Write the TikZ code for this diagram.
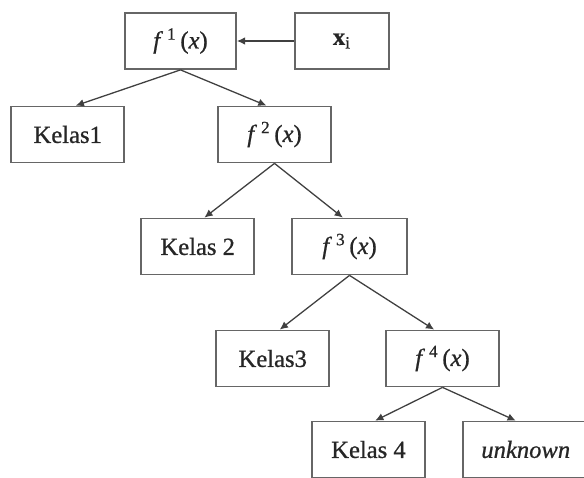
\documentclass[tikz,border=0pt]{standalone}
\usepackage{fontspec}
\setmainfont{Liberation Serif}[FakeBold=0.8]
\usepackage{tikz}
\usetikzlibrary{positioning,arrows.meta}
\definecolor{boxgray}{rgb}{0.40,0.40,0.40}
\definecolor{linegray}{rgb}{0.25,0.25,0.25}
\tikzset{
  box/.style={draw=boxgray, line width=1.5pt, minimum width=3.39cm, minimum height=1.68cm,
    inner sep=0pt, font=\fontsize{21}{25}\selectfont, text=black!85},
  link/.style={-{Latex[length=7pt,width=6.5pt]}, draw=linegray, line width=1.1pt}
}

\begin{document}
\begin{tikzpicture}[x=0.03cm,y=-0.03cm]
    \useasboundingbox (0,0) rectangle (584,478);

    \node(f1) [box, minimum width=3.33cm] at (180.5,41) {\textit{f}\,\textsuperscript{1}\,(\textit{x})};
    \node(xi) [box, minimum width=2.82cm, right=1.71cm of f1] {\textbf{x}\textsubscript{i}};

    \node(f2) [box] at (274.5,134.5) {\textit{f}\,\textsuperscript{2}\,(\textit{x})};
    \node(k1) [box, left=2.76cm of f2] {Kelas1};

    \node(f3) [box, minimum width=3.45cm] at (349.5,246.5) {\textit{f}\,\textsuperscript{3}\,(\textit{x})};
    \node(k2) [box, left=1.08cm of f3] {Kelas 2};

    \node(f4) [box] at (442.5,358.5) {\textit{f}\,\textsuperscript{4}\,(\textit{x})};
    \node(k3) [box, left=1.65cm of f4] {Kelas3};

    \node(k4) [box] at (368.5,449.5) {Kelas 4};
    \node(unk) [box, minimum width=3.78cm, right=1.08cm of k4] {\textit{unknown}};

    % input
    \draw[link] (xi) -- (f1);

    \draw[link] (f1.south) -- ([xshift=0.24cm]k1.north);
    \draw[link] (f1.south) -- ([xshift=-0.24cm]f2.north);

    \draw[link] (f2.south) -- ([xshift=0.2cm]k2.north);
    \draw[link] (f2.south) -- ([xshift=-0.2cm]f3.north);

    \draw[link] (f3.south) -- ([xshift=0.21cm]k3.north);
    \draw[link] (f3.south) -- ([xshift=-0.25cm]f4.north);

    \draw[link] (f4.south) -- ([xshift=0.2cm]k4.north);
    \draw[link] (f4.south) -- ([xshift=-0.3cm]unk.north);
\end{tikzpicture}
\end{document}
